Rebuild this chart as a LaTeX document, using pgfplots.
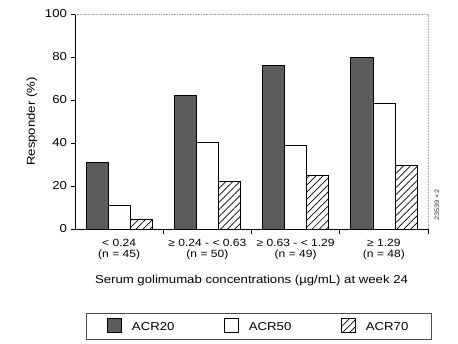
\documentclass[border=0pt]{standalone}
\usepackage{fontspec}
\setmainfont[FakeStretch=1.15]{Liberation Sans}
\usepackage{pgfplots}
\pgfplotsset{compat=1.18}
\usetikzlibrary{patterns.meta}
\begin{document}
\begin{tikzpicture}
\fontsize{11.5}{13}\selectfont
\path[use as bounding box] (-75bp,-115bp) rectangle (383bp,229bp);
\begin{axis}[
  at={(0,0)}, anchor=south west,
  scale only axis, width=353bp, height=215bp,
  clip=false,
  ybar, bar width=0.25, ybar=0pt,
  xmin=-0.5, xmax=3.5, ymin=0, ymax=100,
  axis x line*=bottom, axis y line*=left,
  axis line style={black, line width=0.6pt},
  xtick={0,1,2,3},
  xticklabels={{< 0.24\\(n = 45)},{≥ 0.24 - < 0.63\\(n = 50)},{≥ 0.63 - < 1.29\\(n = 49)},{≥ 1.29\\(n = 48)}},
  xticklabel style={align=center, font=\fontsize{10.5}{11.5}\selectfont, yshift=-2bp},
  major x tick style={draw=none},
  minor xtick={0.5,1.5,2.5,3.5},
  minor x tick style={black, line width=0.6pt},
  minor tick length=5bp,
  ytick={0,20,40,60,80,100},
  y tick style={black, line width=0.6pt},
  major tick length=4bp,
  tick align=outside,
  yticklabel style={font=\fontsize{11.5}{13}\selectfont},
  /pgf/number format/assume math mode=true,
  ylabel={Responder (\%)},
  xlabel={Serum golimumab concentrations (µg/mL) at week 24},
  label style={font=\fontsize{11.5}{13}\selectfont},
  xlabel style={yshift=-7.5bp},
  legend columns=3,
  legend style={at={(0.521,-0.451)}, anchor=center, draw=black!70, line width=0.5pt,
    inner xsep=21bp, inner ysep=5bp,
    font=\fontsize{11.5}{13}\selectfont,
    /tikz/every odd column/.append style={column sep=8bp},
    /tikz/every even column/.append style={column sep=48bp}},
  legend image code/.code={\draw[#1, line width=0.5pt] (0bp,-5bp) rectangle (14bp,9bp);},
]
\addplot[fill=black!64, draw=black, line width=0.6pt] coordinates {(0,31) (1,62) (2,76) (3,79.7)};
\addplot[fill=white, draw=black, line width=0.6pt] coordinates {(0,11.2) (1,40.2) (2,38.9) (3,58.6)};
\addplot[fill=white, draw=black, line width=0.6pt, postaction={pattern={Lines[angle=45, distance=5pt, line width=0.7pt]}}] coordinates {(0,4.7) (1,22.3) (2,24.8) (3,29.4)};
\legend{ACR20, ACR50, ACR70}
\draw[gray!70, densely dotted, line width=0.6pt] (rel axis cs:0,1) -- (rel axis cs:1,1) -- (rel axis cs:1,0);
\node[rotate=90, font=\fontsize{6.5}{7}\selectfont, anchor=center, text=black!80] at (rel axis cs:1.025,0.11) {23539 ×2};
\end{axis}
\end{tikzpicture}
\end{document}
